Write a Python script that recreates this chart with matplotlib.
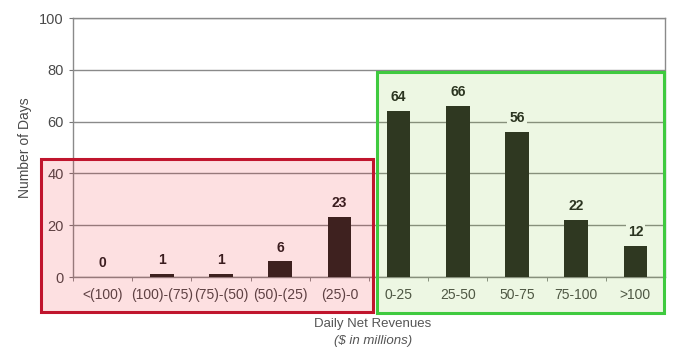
import numpy as np
import matplotlib.pyplot as plt
from matplotlib.patches import Rectangle

plt.rcParams['font.family'] = ['Liberation Sans', 'DejaVu Sans']

# data
categories = ['<(100)', '(100)-(75)', '(75)-(50)', '(50)-(25)', '(25)-0',
              '0-25', '25-50', '50-75', '75-100', '>100']
days = [0, 1, 1, 6, 23, 64, 66, 56, 22, 12]
y_ticks = [0, 20, 40, 60, 80, 100]

fig = plt.figure(figsize=(6.9, 3.56), dpi=100)
ax = fig.add_axes([0.1058, 0.2219, 0.858, 0.7275])

x = np.arange(len(categories))
bars = ax.bar(x, days, width=0.4, color='#262622', zorder=3)

for xi, v in zip(x, days):
    ax.annotate(str(v), (xi, v), xytext=(0, 5), textcoords='offset points',
                ha='center', va='bottom', fontsize=10, fontweight='bold', color='#222222',
                bbox=dict(boxstyle='square,pad=0.15', fc='white', ec='none'), zorder=4)

ax.set_xlim(-0.5, len(categories) - 0.5)
ax.set_ylim(0, 100)
ax.set_yticks(y_ticks)
ax.yaxis.grid(True, color='#8a8a8a', lw=1)
ax.set_axisbelow(True)

ax.set_xticks(x)
ax.set_xticklabels(categories)
ax.set_xticks(np.arange(-0.5, len(categories), 1.0), minor=True)
ax.tick_params(axis='x', which='major', length=0, pad=8, labelsize=10, labelcolor='#4a4a4a')
ax.tick_params(axis='x', which='minor', length=3, color='#777777', direction='out')
ax.tick_params(axis='y', length=3, color='#777777', labelsize=10.5, labelcolor='#4a4a4a')

for s in ['left', 'bottom', 'right', 'top']:
    ax.spines[s].set_color('#8a8a8a')
    ax.spines[s].set_linewidth(1)

ax.set_ylabel('Number of Days', fontsize=10, color='#4a4a4a', labelpad=5)
fig.text(0.5406, 0.09, 'Daily Net Revenues', ha='center', va='center',
         fontsize=9.5, color='#555555')
fig.text(0.5406, 0.042, '($ in millions)', ha='center', va='center',
         fontsize=9.5, color='#555555', style='italic')

# highlight boxes
red = Rectangle((0.0594, 0.1236), 0.4812, 0.4298, transform=fig.transFigure,
                facecolor=(0.95, 0.0, 0.05, 0.12), edgecolor='#c0152d', lw=2.2, zorder=5)
green = Rectangle((0.5464, 0.1208), 0.4159, 0.677, transform=fig.transFigure,
                  facecolor=(0.45, 0.75, 0.1, 0.12), edgecolor='#3fca3f', lw=2.2, zorder=5)
fig.add_artist(red)
fig.add_artist(green)

fig.savefig('out.png', dpi=100)
